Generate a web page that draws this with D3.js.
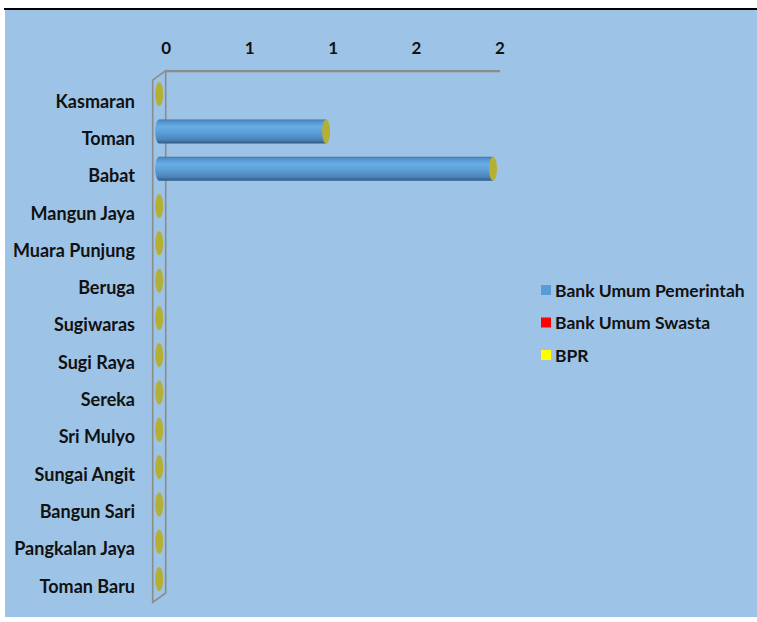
<!DOCTYPE html>
<html>
<head>
<meta charset="utf-8">
<script src="https://cdn.jsdelivr.net/npm/d3@7"></script>
<style>
  body { margin: 0; background: #fff; }
  svg { display: block; font-family: Lato, "Open Sans", sans-serif; }
</style>
</head>
<body>
<svg width="757" height="622"></svg>
<script>
// data
var categories = ["Kasmaran", "Toman", "Babat", "Mangun Jaya", "Muara Punjung", "Beruga",
  "Sugiwaras", "Sugi Raya", "Sereka", "Sri Mulyo", "Sungai Angit", "Bangun Sari",
  "Pangkalan Jaya", "Toman Baru"];
var seriesNames = ["Bank Umum Pemerintah", "Bank Umum Swasta", "BPR"];
var pemerintah = [0, 1, 2, 0, 0, 0, 0, 0, 0, 0, 0, 0, 0, 0];
var swasta = [0, 0, 0, 0, 0, 0, 0, 0, 0, 0, 0, 0, 0, 0];
var bpr = [0, 0, 0, 0, 0, 0, 0, 0, 0, 0, 0, 0, 0, 0];
var tickValues = [0, 0.5, 1, 1.5, 2];

var colors = ["#5b9bd5", "#ff0000", "#ffff00"];
var capColor = "#b4b036";
var gray = "#8c8c8c";

var svg = d3.select("svg");

// background panel
svg.append("rect").attr("x", 5).attr("y", 10).attr("width", 752).attr("height", 607)
  .attr("fill", "#9dc3e6");
svg.append("line").attr("x1", 4).attr("x2", 757).attr("y1", 9).attr("y2", 9)
  .attr("stroke", "#000").attr("stroke-width", 2);

// depth of the 3d frame
var dx = -13, dy = 9.5;

// scales on the back wall
var x = d3.scaleLinear().domain([0, 2]).range([165.7, 499.5]);
var y = d3.scaleBand().domain(categories).range([70.7, 593]);

// bar gradient (cylinder look)
var defs = svg.append("defs");
var grad = defs.append("linearGradient").attr("id", "cyl")
  .attr("x1", 0).attr("y1", 0).attr("x2", 0).attr("y2", 1);
[[0, "#3f6f9c"], [0.06, "#4f8fc8"], [0.3, "#69ade6"], [0.55, "#5d9fd8"],
 [0.85, "#4a82b8"], [1, "#2f5a82"]].forEach(function(s) {
  grad.append("stop").attr("offset", s[0]).attr("stop-color", s[1]);
});

// side wall
var wall = svg.append("g").attr("fill", "none").attr("stroke", gray).attr("stroke-width", 1.6);
var y0 = y.range()[0], y1 = y.range()[1];
wall.append("path")
  .attr("d", "M" + x(0) + "," + y0 + "L" + (x(0) + dx) + "," + (y0 + dy) +
    "L" + (x(0) + dx) + "," + (y1 + dy) + "L" + x(0) + "," + y1 + "Z");

// top axis
var axis = d3.axisTop(x).tickValues(tickValues).tickSize(0).tickPadding(17)
  .tickFormat(function(d) { return Math.round(d); });
var ax = svg.append("g").attr("transform", "translate(0," + y0 + ")").call(axis);
ax.select(".domain").attr("stroke", gray).attr("stroke-width", 2.2);
ax.selectAll("text").attr("font-size", 17).attr("font-weight", 700)
  .attr("fill", "#111").attr("font-family", "Lato, sans-serif");

// bars
var rows = categories.map(function(c, i) {
  return { cat: c, a: pemerintah[i], b: swasta[i], c2: bpr[i] };
});
var stack = d3.stack().keys(["a", "b", "c2"]);
var stacked = stack(rows);

var ry = 12, rx = 4;
function cx(v) { return x(v) + dx / 2; }
function cy(c) { return y(c) + y.bandwidth() / 2 + dy / 2; }

var bars = svg.append("g");
stacked.forEach(function(layer, k) {
  layer.forEach(function(d) {
    if (d[1] - d[0] <= 0) return;
    var c = d.data.cat, xa = cx(d[0]), xb = cx(d[1]), yc = cy(c);
    bars.append("path")
      .attr("d", "M" + xa + "," + (yc - ry) + "L" + xb + "," + (yc - ry) +
        "L" + xb + "," + (yc + ry) + "L" + xa + "," + (yc + ry) +
        "A" + rx + "," + ry + " 0 0 1 " + xa + "," + (yc - ry) + "Z")
      .attr("fill", k === 0 ? "url(#cyl)" : colors[k]);
  });
});
// end caps
bars.selectAll("ellipse").data(rows).join("ellipse")
  .attr("cx", function(d) { return cx(d.a + d.b + d.c2); })
  .attr("cy", function(d) { return cy(d.cat); })
  .attr("rx", rx).attr("ry", ry)
  .attr("fill", capColor);

// category labels
svg.append("g").selectAll("text").data(categories).join("text")
  .attr("x", 135)
  .attr("y", function(d) { return y(d) + y.bandwidth() / 2 + 11.3; })
  .attr("dominant-baseline", "central")
  .attr("text-anchor", "end")
  .attr("font-size", 18).attr("font-weight", 700).attr("fill", "#111")
  .text(function(d) { return d; });

// legend
var legend = svg.append("g").selectAll("g").data(seriesNames).join("g")
  .attr("transform", function(d, i) { return "translate(541," + (290 + i * 32.5) + ")"; });
legend.append("rect").attr("x", 0).attr("y", -5).attr("width", 10).attr("height", 10)
  .attr("fill", function(d, i) { return colors[i]; });
legend.append("text").attr("x", 14).attr("y", 0).attr("dominant-baseline", "central")
  .attr("font-size", 17.5).attr("font-weight", 700).attr("fill", "#111")
  .text(function(d) { return d; });
</script>
</body>
</html>
